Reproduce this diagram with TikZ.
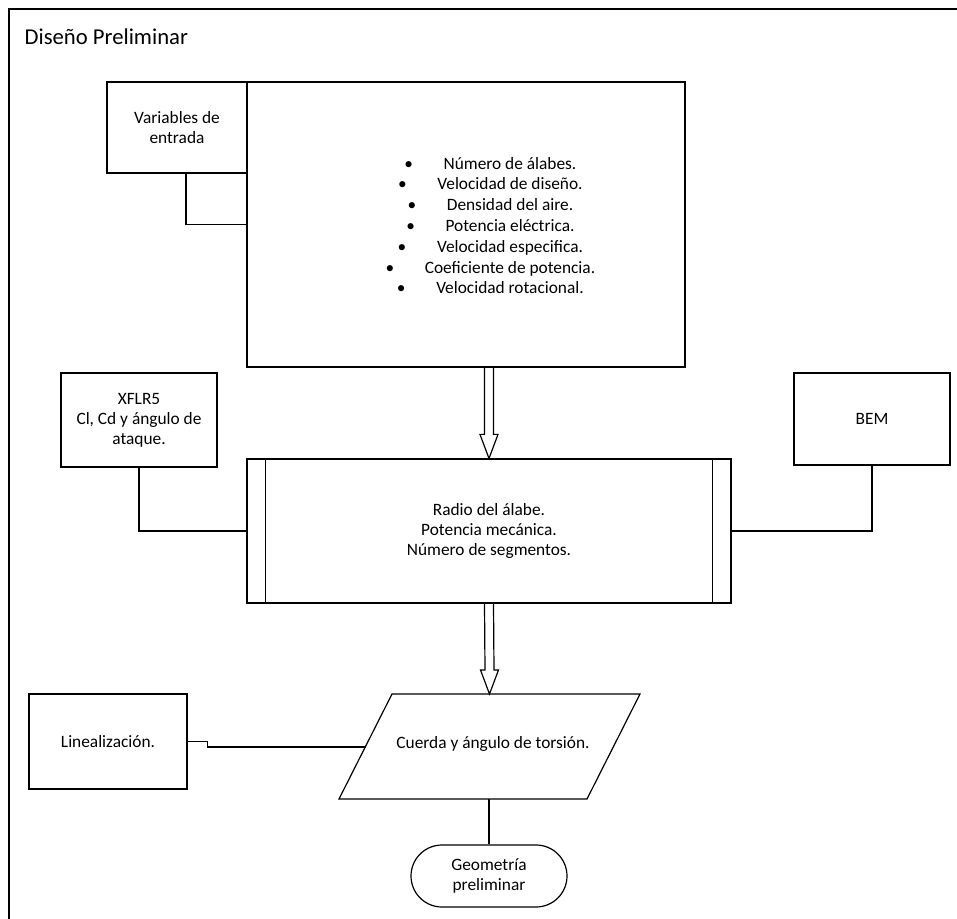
\documentclass[tikz,border=0pt]{standalone}
\usepackage{fontspec}
\setmainfont{Carlito}
\usetikzlibrary{calc,shapes.misc}

\tikzset{
  caja/.style={draw,line width=0.9pt,align=center,inner sep=0pt},
  conector/.style={line width=0.9pt},
  marco/.style={line width=1.5pt},
}

% flecha de bloque hueca entre dos puntos alineados
\newcommand{\flechabloque}[2]{%
  \draw[conector] ($(#1)+(-4.5,0)$) -- ($(#2)+(-4.5,-24)$) -- ($(#2)+(-9,-24)$) -- (#2)
    -- ($(#2)+(9,-24)$) -- ($(#2)+(4.5,-24)$) -- ($(#1)+(4.5,0)$);}

\begin{document}
\begin{tikzpicture}[x=0.75pt,y=-0.75pt,font=\fontsize{13}{15}\selectfont]
	
	\useasboundingbox (0,0) rectangle (957,919);
	\clip (0,0) rectangle (957,919);
	
	% Marco
	\draw[marco] (9,9) rectangle (990,950);
	\node[anchor=west,font=\fontsize{17}{20}\selectfont] (titulo) at (20,37) {Diseño Preliminar};
	
	% Entradas
	\node[caja,minimum width=105pt,minimum height=68.25pt] (vars) at (177,127.5) {Variables de\\entrada};
	\node[caja,minimum width=328.5pt,minimum height=213.75pt] (lista) at (466,224.5) {};
	\node[align=center,font=\fontsize{13}{15.6}\selectfont] (items) at (510,225.5) {%
		\llap{\textbullet\hspace{23pt}}Número de álabes.\\
		\llap{\textbullet\hspace{23pt}}Velocidad de diseño.\\
		\llap{\textbullet\hspace{23pt}}Densidad del aire.\\
		\llap{\textbullet\hspace{23pt}}Potencia eléctrica.\\
		\llap{\textbullet\hspace{23pt}}Velocidad especifica.\\
		\llap{\textbullet\hspace{23pt}}Coeficiente de potencia.\\
		\llap{\textbullet\hspace{23pt}}Velocidad rotacional.};
	\draw[conector] ([xshift=6.75pt]vars.south) |- (lista.west);
	
	% Proceso
	\node[caja,minimum width=117pt,minimum height=70.5pt] (xflr) at (139,420) {XFLR5\\Cl, Cd y ángulo de\\ataque.};
	\node[caja,minimum width=117pt,minimum height=69pt] (bem) at (872,419) {BEM};
	\node[caja,minimum width=363pt,minimum height=108pt] (proceso) at (489,531) {Radio del álabe.\\Potencia mecánica.\\Número de segmentos.};
	\draw[conector] ([xshift=14.25pt]proceso.north west) -- ([xshift=14.25pt]proceso.south west);
	\draw[conector] ([xshift=-14.25pt]proceso.north east) -- ([xshift=-14.25pt]proceso.south east);
	\coordinate (f1) at (lista.south -| proceso.north);
	\flechabloque{f1}{proceso.north}
	\draw[conector] (xflr.south) |- (proceso.west);
	\draw[conector] (bem.south) |- (proceso.east);
	
	% Salida (paralelogramo)
	\draw[conector] (392,694) coordinate (cuerda-nw) -- (640,694) -- (587,799) -- (339,799) -- cycle;
	\coordinate (cuerda-n) at (489.5,694);
	\coordinate (cuerda-w) at (365.5,747);
	\coordinate (cuerda-s) at (489,799);
	\node (cuerda) at (493,744) {Cuerda y ángulo de torsión.};
	\flechabloque{proceso.south}{cuerda-n}
	\node[caja,minimum width=118.5pt,minimum height=71.25pt] (lineal) at (108,741.5) {Linealización.};
	\draw[conector] (lineal.east) -- ++(20,0) |- (cuerda-w);
	\node[caja,rounded rectangle,minimum width=117pt,minimum height=46.5pt] (geo) at (489,876) {Geometría\\preliminar};
	\draw[conector] (cuerda-s) -- (geo.north);
	
\end{tikzpicture}
\end{document}
